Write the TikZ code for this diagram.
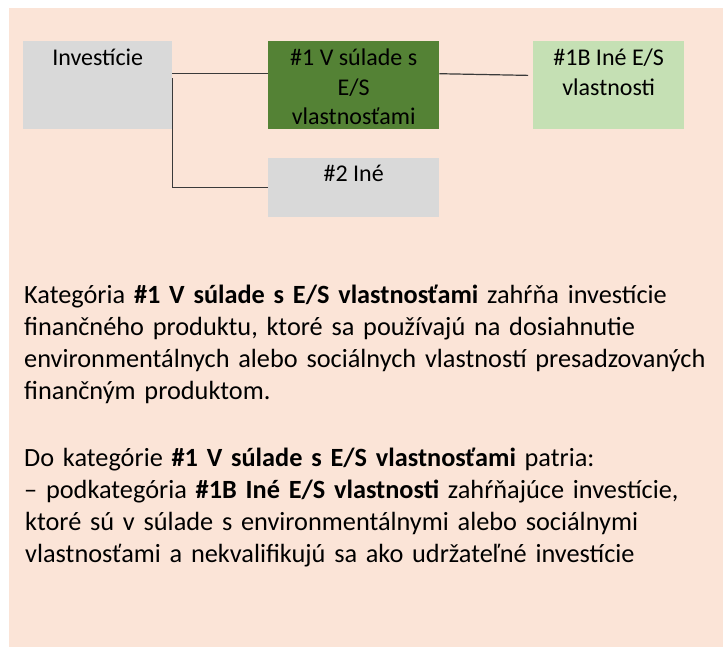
\documentclass[tikz,border=0pt]{standalone}
\usepackage{fontspec}
\setmainfont{Carlito}
\usepackage{tikz}
\usetikzlibrary{positioning,calc}

\definecolor{bgpink}{HTML}{FBE4D7}
\definecolor{boxgray}{HTML}{D9D9D9}
\definecolor{darkgreen}{HTML}{548235}
\definecolor{lightgreen}{HTML}{C5E0B4}
\definecolor{linegray}{HTML}{3A3A3A}

\begin{document}
\begin{tikzpicture}[x=1bp, y=-1bp,
    catbox/.style={rectangle, anchor=north west, inner sep=0pt, minimum height=88bp},
    boxtext/.style={anchor=north, inner sep=0pt, align=center, text=black,
      font=\fontsize{24bp}{29.3bp}\selectfont},
    bodytext/.style={anchor=base west, inner sep=0pt, text width=690bp, align=left,
      font=\fontsize{26.3bp}{32bp}\selectfont},
    link/.style={draw=linegray, line width=1.2bp}]
    \useasboundingbox (0,0) rectangle (723,647);
    \fill[bgpink] (9,8) rectangle (723,647);

    % boxes
    \node[catbox, fill=boxgray   , minimum width=149bp] (inv) at (23,41) {};
    \node[catbox, fill=darkgreen , minimum width=171bp] (es)  at (268,41) {};
    \node[catbox, fill=lightgreen, minimum width=151bp] (esb) at (533,41) {};
    \node[catbox, fill=boxgray   , minimum width=171bp, minimum height=59bp] (ine) at (268,158) {};

    \node[boxtext, below=8bp of inv.north] (invtxt) {Investície};
    \node[boxtext, below=8bp of es.north]  (estxt)  {\#1 V súlade s\\E/S\\vlastnosťami};
    \node[boxtext, below=8bp of esb.north] (esbtxt) {\#1B Iné E/S\\vlastnosti};
    \node[boxtext, below=7bp of ine.north] (inetxt) {\#2 Iné};

    % connectors
    \coordinate (jt) at ($(inv.north east)!0.37!(inv.south east)$);
    \coordinate (jv) at ($(inv.north east)!0.42!(inv.south east)$);
    \coordinate (jr) at ($(es.north east)!0.37!(es.south east)$);
    \coordinate (jb) at ($(esb.north west)!0.39!(esb.south west)$);
    \draw[link] (jt) -- (jt -| es.west);
    \draw[link] (jv) |- (ine.west);
    \draw[link, shorten >=5bp] (jr) -- (jb);

    % description
    \node[bodytext] (desc1) at (24,303) {Kategória \textbf{\#1 V súlade s E/S vlastnosťami} zahŕňa investície\\
      finančného produktu, ktoré sa používajú na dosiahnutie\\
      environmentálnych alebo sociálnych vlastností presadzovaných\\
      finančným produktom.};
    \node[bodytext] (desc2) at (24,466) {Do kategórie \textbf{\#1 V súlade s E/S vlastnosťami} patria:\\
      – podkategória \textbf{\#1B Iné E/S vlastnosti} zahŕňajúce investície,\\
      \hspace{1bp}ktoré sú v súlade s environmentálnymi alebo sociálnymi\\
      \hspace{1bp}vlastnosťami a nekvalifikujú sa ako udržateľné investície};
\end{tikzpicture}
\end{document}
